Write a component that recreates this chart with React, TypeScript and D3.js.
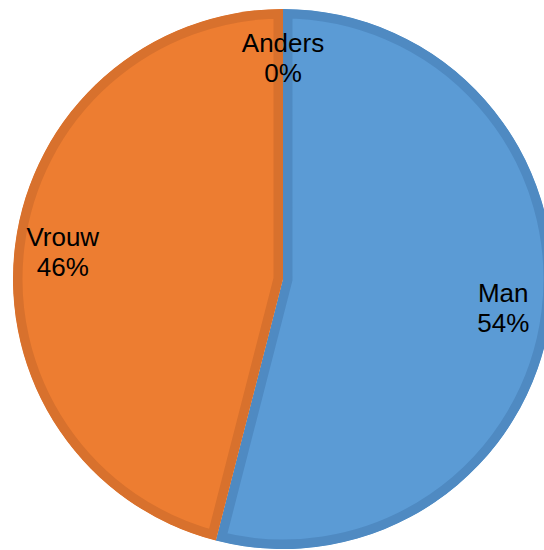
import React from 'react';
import * as d3 from 'd3';

const categories = ['Man', 'Vrouw', 'Anders'];
const values = [54, 46, 0];
const labels = ['54%', '46%', '0%'];
const fills = ['#5B9BD5', '#ED7D31', '#A5A5A5'];
const borders = ['#4F8AC2', '#D8712D', '#8F8F8F'];

const App: React.FC = () => {
  const width = 544;
  const height = 550;
  const cx = 283;
  const cy = 279;
  const r = 270;

  const pie = d3.pie<number>().sort(null).value(d => d);
  const arcs = pie(values);
  const arc = d3.arc<d3.PieArcDatum<number>>().innerRadius(0).outerRadius(r);
  const labelArc = d3.arc<d3.PieArcDatum<number>>().innerRadius(222).outerRadius(222);

  return (
    <svg width={width} height={height} style={{ position: 'absolute', left: 0, top: 0 }}>
      <defs>
        {arcs.map((a, i) => (
          <clipPath key={i} id={`clip-${i}`}>
            <path d={arc(a) || ''} />
          </clipPath>
        ))}
      </defs>
      <g transform={`translate(${cx},${cy})`}>
        {arcs.map((a, i) =>
          a.endAngle - a.startAngle > 0 ? (
            <path
              key={categories[i]}
              d={arc(a) || ''}
              fill={fills[i]}
              stroke={borders[i]}
              strokeWidth={19}
              clipPath={`url(#clip-${i})`}
            />
          ) : null
        )}
        {arcs.map((a, i) => {
          const [x, y] = labelArc.centroid(a);
          return (
            <text
              key={`t-${i}`}
              x={x}
              textAnchor="middle"
              fontFamily="'Liberation Sans', Arial, sans-serif"
              fontSize={26}
              fill="#000"
            >
              <tspan x={x} y={y - 5}>{categories[i]}</tspan>
              <tspan x={x} y={y + 25}>{labels[i]}</tspan>
            </text>
          );
        })}
      </g>
    </svg>
  );
};

export default App;
